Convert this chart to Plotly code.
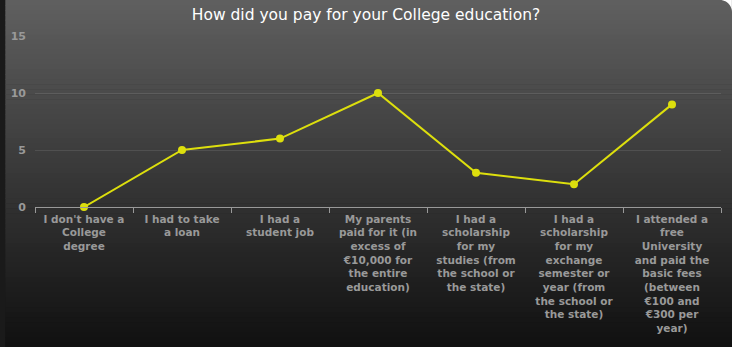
import math
import plotly.graph_objects as go

categories = [
    "I don't have a<br>College<br>degree",
    "I had to take<br>a loan",
    "I had a<br>student job",
    "My parents<br>paid for it (in<br>excess of<br>€10,000 for<br>the entire<br>education)",
    "I had a<br>scholarship<br>for my<br>studies (from<br>the school or<br>the state)",
    "I had a<br>scholarship<br>for my<br>exchange<br>semester or<br>year (from<br>the school or<br>the state)",
    "I attended a<br>free<br>University<br>and paid the<br>basic fees<br>(between<br>€100 and<br>€300 per<br>year)",
]
values = [0, 5, 6, 10, 3, 2, 9]
y_ticks = [0, 5, 10, 15]

W, H = 732, 347
ML, MR, MT, MB = 28, 11, 36, 140
pw, ph = W - ML - MR, H - MT - MB

def px2paper_x(px):
    return (px - ML) / pw

def px2paper_y(py):
    return (H - MB - py) / ph

fig = go.Figure()
fig.add_trace(go.Scatter(
    x=categories, y=values, mode="lines+markers",
    line=dict(color="#DDDF0D", width=2),
    marker=dict(color="#DDDF0D", size=8),
    hoverinfo="skip", cliponaxis=False,
))

shapes = []
n = 70
top = (96, 96, 96)
bot = (16, 16, 16)
for i in range(n):
    t = (i + 0.5) / n
    c = tuple(int(round(top[k] + (bot[k] - top[k]) * t)) for k in range(3))
    y0 = H * i / n
    y1 = H * (i + 1) / n + 0.6
    shapes.append(dict(
        type="rect", xref="paper", yref="paper", layer="below",
        x0=px2paper_x(-2), x1=px2paper_x(W + 2),
        y0=px2paper_y(y1), y1=px2paper_y(y0),
        fillcolor="rgb(%d,%d,%d)" % c, line=dict(width=0),
    ))

# rounded white corner at top right
r = 12
cx, cy = W, 0
pts = [(cx, cy), (cx - r, cy)]
ccx, ccy = cx - r, cy + r
steps = 12
for s in range(steps + 1):
    a = math.pi / 2 * s / steps
    pts.append((ccx + r * math.sin(a), ccy - r * math.cos(a)))
d = "M " + " L ".join("%f,%f" % (px2paper_x(p[0]), px2paper_y(p[1])) for p in pts) + " Z"
shapes.append(dict(type="path", xref="paper", yref="paper", layer="below",
                   path=d, fillcolor="#FFFFFF", line=dict(width=0)))

fig.update_layout(
    width=W, height=H,
    margin=dict(l=ML, r=MR, t=MT, b=MB),
    paper_bgcolor="#1a1a1a",
    plot_bgcolor="rgba(0,0,0,0)",
    shapes=shapes,
    showlegend=False,
    title=dict(text="How did you pay for your College education?",
               x=0.5, xref="container", xanchor="center",
               y=1 - 15 / H, yref="container", yanchor="middle",
               font=dict(family="DejaVu Sans, Verdana, sans-serif", size=15.5, color="#FFFFFF")),
    font=dict(family="DejaVu Sans, Verdana, sans-serif"),
    xaxis=dict(
        type="category",
        showgrid=False, zeroline=False,
        showline=True, linecolor="#999999", linewidth=1,
        ticks="outside", tickson="boundaries", ticklen=5, tickcolor="#999999",
        ticklabelstandoff=2,
        tickfont=dict(size=10.5, color="#999999", family="DejaVu Sans, Verdana, sans-serif", weight="bold"),
        tickangle=0,
        range=[-0.5, 6.5],
        fixedrange=True,
    ),
    yaxis=dict(
        range=[0, 15],
        tickvals=y_ticks,
        showgrid=True, gridcolor="rgba(255,255,255,0.1)", gridwidth=1,
        zeroline=False, showline=False, ticks="",
        ticklabelstandoff=8,
        tickfont=dict(size=11, color="#999999", family="DejaVu Sans, Verdana, sans-serif", weight="bold"),
        fixedrange=True,
    ),
)

fig.write_html("out.html", config={"displayModeBar": False})
